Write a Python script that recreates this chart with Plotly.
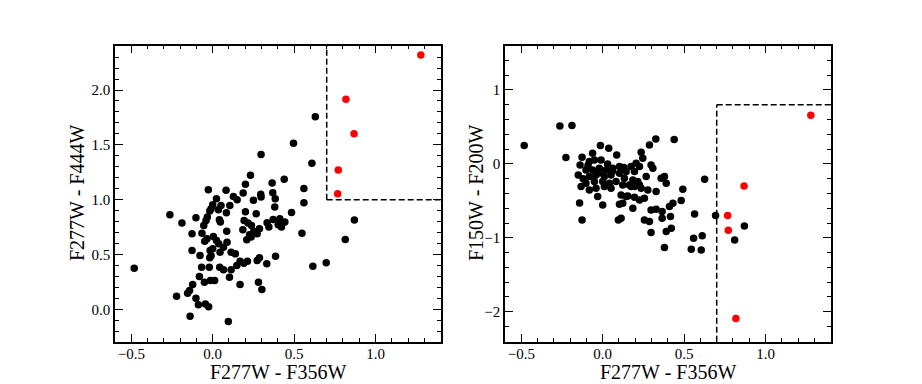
import plotly.graph_objects as go

# ---------------- data ----------------
# Left panel: F277W - F356W vs F277W - F444W
left_x = [0.232, 0.439, 0.201, 0.365, -0.027, 0.082, 0.560, 0.369, 0.187, 0.295,
          0.297, 0.127, 0.150, 0.023, 0.250, 0.384, 0.560, 0.000, 0.051, 0.105,
          0.381, -0.010, -0.018, 0.035, 0.084, 0.201, 0.484, 0.267, -0.263, -0.103,
          -0.033, -0.041, 0.041, 0.193, 0.412, 0.371, 0.047, 0.443, 0.334, -0.189,
          0.217, 0.238, -0.055, 0.402, 0.345, 0.287, 0.422, 0.185, 0.252, 0.273,
          0.226, -0.066, -0.127, 0.086, 0.004, 0.548, 0.814, -0.049, -0.035, 0.023,
          0.037, 0.088, 0.209, 0.236, -0.127, -0.078, -0.016, 0.000, 0.066, 0.045,
          0.113, 0.139, -0.018, -0.010, 0.168, 0.213, 0.287, 0.332, 0.273, 0.386,
          0.615, 0.697, -0.068, -0.021, 0.043, 0.148, 0.191, 0.066, 0.113, -0.082,
          -0.051, -0.014, 0.012, 0.103, 0.168, 0.281, 0.302, -0.123, -0.142, -0.154,
          -0.222, -0.103, -0.088, -0.045, -0.025, -0.139, 0.096,
          -0.482, 0.630, 0.496, 0.297, 0.609, 0.870]
left_y = [1.223, 1.186, 1.140, 1.152, 1.091, 1.085, 1.101, 1.064, 1.061, 1.049,
          1.024, 1.030, 1.000, 1.009, 0.994, 1.009, 0.973, 0.954, 0.948, 0.948,
          0.933, 0.918, 0.896, 0.909, 0.881, 0.890, 0.884, 0.872, 0.863, 0.835,
          0.841, 0.811, 0.817, 0.811, 0.826, 0.820, 0.796, 0.796, 0.790, 0.787,
          0.787, 0.765, 0.765, 0.771, 0.750, 0.735, 0.750, 0.726, 0.710, 0.689,
          0.680, 0.695, 0.689, 0.713, 0.665, 0.695, 0.637, 0.622, 0.643, 0.628,
          0.598, 0.613, 0.634, 0.659, 0.537, 0.491, 0.537, 0.552, 0.567, 0.521,
          0.521, 0.506, 0.470, 0.488, 0.439, 0.439, 0.470, 0.415, 0.445, 0.485,
          0.393, 0.424, 0.384, 0.384, 0.384, 0.399, 0.421, 0.360, 0.360, 0.299,
          0.247, 0.262, 0.262, 0.293, 0.226, 0.247, 0.180, 0.226, 0.171, 0.146,
          0.119, 0.101, 0.043, 0.049, 0.024, -0.064, -0.110,
          0.375, 1.756, 1.515, 1.412, 1.332, 0.814]
left_red_x = [1.278, 0.818, 0.868, 0.771, 0.767]
left_red_y = [2.320, 1.915, 1.601, 1.271, 1.055]

# Right panel: F277W - F356W vs F150W - F200W
right_x = [-0.263, -0.189, -0.014, 0.037, -0.062, 0.086, -0.226, -0.127, 0.287, 0.326,
           0.439, 0.236, -0.139, -0.082, -0.051, -0.010, -0.150, -0.103, -0.062, -0.021,
           0.021, 0.062, 0.103, -0.082, -0.041, 0.010, 0.051, 0.103, 0.144, -0.103,
           -0.051, 0.000, 0.041, 0.082, -0.133, -0.082, -0.041, 0.010, 0.051, 0.123,
           0.174, 0.226, -0.031, 0.113, 0.154, 0.246, 0.205, 0.174, 0.226, 0.297,
           0.308, 0.195, 0.267, 0.359, 0.379, 0.626, 0.133, 0.185, 0.215, 0.164,
           0.195, 0.236, 0.277, 0.328, 0.390, 0.492, 0.144, 0.195, 0.226, 0.256,
           0.123, 0.185, 0.482, 0.431, 0.410, 0.297, 0.328, 0.365, 0.564, 0.693,
           0.416, 0.365, 0.256, 0.287, 0.113, 0.421, 0.390, 0.297, 0.611, 0.558,
           0.810, 0.379, 0.544, 0.605, -0.142, -0.127, 0.000, 0.103, 0.096,
           -0.482, 0.870,
           -0.020, 0.060, -0.090, 0.030, -0.120, 0.130]
right_y = [0.514, 0.519, 0.248, 0.212, 0.144, 0.122, 0.086, 0.090, 0.257, 0.338,
           0.329, 0.158, -0.014, 0.032, 0.054, 0.054, -0.149, -0.081, -0.081, -0.059,
           -0.081, -0.059, -0.036, -0.171, -0.149, -0.171, -0.149, -0.126, -0.104, -0.262,
           -0.239, -0.239, -0.262, -0.239, -0.307, -0.352, -0.329, -0.307, -0.329, -0.284,
           -0.307, -0.284, -0.442, -0.420, -0.433, 0.077, 0.009, -0.036, -0.036, -0.014,
           -0.059, -0.104, -0.171, -0.194, -0.171, -0.207, -0.194, -0.217, -0.239, -0.284,
           -0.307, -0.329, -0.352, -0.374, -0.262, -0.343, -0.442, -0.451, -0.487, -0.465,
           -0.532, -0.600, -0.496, -0.532, -0.577, -0.623, -0.613, -0.645, -0.677, -0.699,
           -0.713, -0.735, -0.758, -0.780, -0.735, -0.871, -0.916, -0.929, -0.974, -1.006,
           -1.029, -1.132, -1.155, -1.164, -0.528, -0.758, -0.555, -0.546, -0.758,
           0.248, -0.839,
           -0.120, -0.100, -0.020, 0.000, -0.200, -0.050]
right_red_x = [1.278, 0.868, 0.767, 0.771, 0.818]
right_red_y = [0.659, -0.298, -0.699, -0.898, -2.093]

# selection-box thresholds
left_box_x, left_box_y = 0.7, 1.0
right_box_x, right_box_y = 0.7, 0.8

x_range = [-0.6, 1.4]
left_y_range = [-0.295, 2.406]
right_y_range = [-2.406, 1.602]

FONT = "Liberation Serif"
W, H = 922, 384

fig = go.Figure()
mk_black = dict(color="black", size=7.5, line=dict(width=0))
mk_red = dict(color="#ff0000", size=7.5, line=dict(width=0))

fig.add_trace(go.Scatter(x=left_x, y=left_y, mode="markers", marker=mk_black,
                         xaxis="x", yaxis="y", showlegend=False))
fig.add_trace(go.Scatter(x=left_red_x, y=left_red_y, mode="markers", marker=mk_red,
                         xaxis="x", yaxis="y", showlegend=False))
fig.add_trace(go.Scatter(x=right_x, y=right_y, mode="markers", marker=mk_black,
                         xaxis="x2", yaxis="y2", showlegend=False))
fig.add_trace(go.Scatter(x=right_red_x, y=right_red_y, mode="markers", marker=mk_red,
                         xaxis="x2", yaxis="y2", showlegend=False))

dash_line = dict(color="black", width=1.5, dash="6px,3px")
fig.add_shape(type="line", xref="x", yref="y", x0=left_box_x, x1=left_box_x,
              y0=left_box_y, y1=left_y_range[1], line=dash_line)
fig.add_shape(type="line", xref="x", yref="y", x0=left_box_x, x1=x_range[1],
              y0=left_box_y, y1=left_box_y, line=dash_line)
fig.add_shape(type="line", xref="x2", yref="y2", x0=right_box_x, x1=right_box_x,
              y0=right_y_range[0], y1=right_box_y, line=dash_line)
fig.add_shape(type="line", xref="x2", yref="y2", x0=right_box_x, x1=x_range[1],
              y0=right_box_y, y1=right_box_y, line=dash_line)

tickfont = dict(family=FONT, size=15, color="black")


def axis(domain, rng, dtick, minor_dtick, fmt, anchor, standoff=0):
    return dict(domain=domain, range=rng, anchor=anchor, dtick=dtick, tick0=0,
                tickformat=fmt, ticks="inside", ticklen=8, tickwidth=1.3,
                tickcolor="black", showline=True, linecolor="black", linewidth=1.6,
                mirror="allticks", showgrid=False, zeroline=False, tickfont=tickfont,
                ticklabelstandoff=standoff,
                minor=dict(ticks="inside", ticklen=4, tickwidth=1.1,
                           tickcolor="black", dtick=minor_dtick, tick0=0,
                           showgrid=False))


xd1 = [115 / W, 440.7 / W]
xd2 = [505 / W, 830.7 / W]
yd = [1 - 341.7 / H, 1 - 45.5 / H]

fig.update_layout(
    width=W, height=H,
    margin=dict(l=0, r=0, t=0, b=0),
    paper_bgcolor="white", plot_bgcolor="white",
    font=dict(family=FONT, color="black"),
    xaxis=axis(xd1, x_range, 0.5, 0.1, ".1f", "y", standoff=-3),
    yaxis=axis(yd, left_y_range, 0.5, 0.1, ".1f", "x"),
    xaxis2=axis(xd2, x_range, 0.5, 0.1, ".1f", "y2", standoff=-3),
    yaxis2=axis(yd, right_y_range, 1, 0.2, "d", "x2"),
)

titlefont = dict(family=FONT, size=20, color="black")
ann = [
    dict(text="F277W - F356W", x=(xd1[0] + xd1[1]) / 2, y=1 - 372 / H),
    dict(text="F277W - F356W", x=(xd2[0] + xd2[1]) / 2, y=1 - 372 / H),
    dict(text="F277W - F444W", x=77 / W, y=1 - 193 / H, textangle=-90),
    dict(text="F150W - F200W", x=476 / W, y=1 - 193 / H, textangle=-90),
]
for a in ann:
    fig.add_annotation(xref="paper", yref="paper", showarrow=False,
                       xanchor="center", yanchor="middle", font=titlefont, **a)

fig.write_html("out.html",
               config={"displayModeBar": False},
               post_script="document.body.style.margin='0';"
                           "document.body.style.overflow='hidden';")
